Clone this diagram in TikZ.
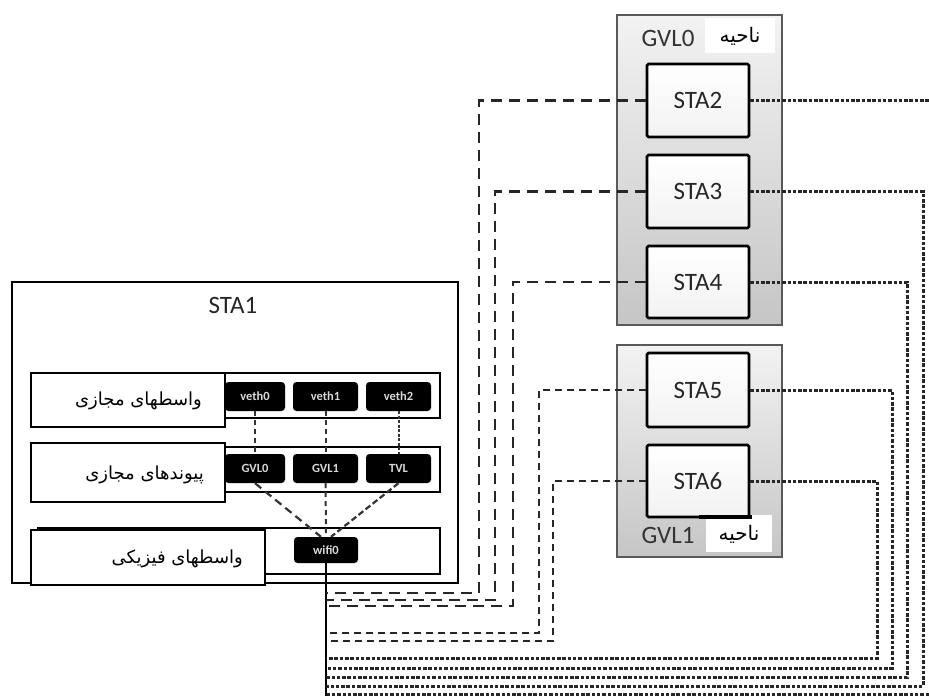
\documentclass[tikz,border=0pt]{standalone}
\usepackage{fontspec}
\setmainfont{Carlito}
\newfontfamily\fa[Script=Arabic]{DejaVu Sans}
\TeXXeTstate=1
\begin{document}
\begin{tikzpicture}[x=1pt,y=-1pt,
  zone/.style={draw=gray!70!black, line width=1.8pt, top color=gray!10, bottom color=gray!45, inner sep=0pt},
  stabox/.style={draw=black, line width=2.8pt, rounded corners=1.5pt, top color=white, bottom color=gray!10, minimum width=102pt, inner sep=0pt, font=\fontsize{25}{27}\selectfont, text=black!85},
  outerbox/.style={draw=black, line width=2.8pt, fill=white, inner sep=0pt},
  strip/.style={draw=black, line width=2.2pt, fill=white, inner sep=0pt},
  lblbox/.style={draw=black, line width=1.8pt, fill=white, inner sep=0pt},
  ifbox/.style={fill=black, rounded corners=3.5pt, text=white!85!black, inner sep=0pt, font=\fontsize{12.5}{13}\selectfont\bfseries},
  fatext/.style={font=\fontsize{18}{20}\selectfont\fa, inner sep=0pt},
  zonetitle/.style={font=\fontsize{25}{27}\selectfont, text=black!80, inner sep=0pt},
  ldash/.style={draw=black!85, line width=2.4pt, dash pattern=on 11pt off 7pt},
  mdash/.style={draw=black!85, line width=2.5pt, dash pattern=on 7pt off 5pt},
  rdash/.style={draw=black!85, line width=3pt, dash pattern=on 3.5pt off 1.8pt},
  idash/.style={draw=black!80, line width=2pt, dash pattern=on 5pt off 4pt},
  idashl/.style={draw=black!80, line width=2.2pt, dash pattern=on 8pt off 5pt}]
\useasboundingbox (0,0) rectangle (929,696);

% ---------- zones ----------
\node[zone, minimum width=165pt, minimum height=310pt] (zone0) at (699.5,170) {};
\node[zone, minimum width=165pt, minimum height=212pt] (zone1) at (699.5,451) {};

% ---------- STA1 ----------
\node[outerbox, minimum width=446pt, minimum height=301pt] (sta1) at (235,432.5) {};
\node[font=\fontsize{25}{27}\selectfont, text=black!85, inner sep=0pt] (sta1t) at (233,305) {STA1};

\node[strip, minimum width=409pt, minimum height=45pt] (row1) at (235.5,395.5) {};
\node[strip, minimum width=409pt, minimum height=45pt] (row2) at (235.5,469.5) {};
\node[strip, minimum width=402pt, minimum height=46pt] (row3) at (239,551) {};

% interface boxes
\node[ifbox, minimum width=60pt, minimum height=29pt] (veth0) at (255,396.5) {veth0};
\node[ifbox, minimum width=65pt, minimum height=29pt] (veth1) at (325.5,396.5) {veth1};
\node[ifbox, minimum width=65pt, minimum height=29pt] (veth2) at (398.5,396.5) {veth2};
\node[ifbox, minimum width=60pt, minimum height=29pt] (gvl0) at (255,468.5) {GVL0};
\node[ifbox, minimum width=65pt, minimum height=29pt] (gvl1) at (325.5,468.5) {GVL1};
\node[ifbox, minimum width=65pt, minimum height=29pt] (tvl) at (398.5,468.5) {TVL};
\node[ifbox, minimum width=64pt, minimum height=26pt] (wifi0) at (326,550) {wifi0};

% internal connectors
\draw[idash] (veth0.south) -- (gvl0.north);
\draw[idash] (veth1.south) -- (gvl1.north);
\draw[idash, dash pattern=on 3pt off 1.5pt] (veth2.south) -- (tvl.north);
\draw[idashl] (gvl0.south) -- ([xshift=-5pt]wifi0.north);
\draw[idash] (gvl1.south) -- (wifi0.north);
\draw[idashl, dash pattern=on 6pt off 3pt] (tvl.south) -- ([xshift=5pt]wifi0.north);

% label boxes
\node[lblbox, minimum width=194pt, minimum height=54pt] (lbl1) at (128,400) {};
\node[lblbox, minimum width=194pt, minimum height=59pt] (lbl2) at (128,472.5) {};
\node[lblbox, minimum width=234pt, minimum height=55pt] (lbl3) at (148,557.5) {};
\node[fatext, anchor=east] (lbl1t) at (202,401) {\beginR واسطهای مجازی\endR};
\node[fatext, anchor=east] (lbl2t) at (204,475) {\beginR پیوندهای مجازی\endR};
\node[fatext, anchor=east] (lbl3t) at (243,559) {\beginR واسطهای فیزیکی\endR};

% ---------- corner coordinates ----------
\coordinate (l2) at (479,593);
\coordinate (l3) at (495,600);
\coordinate (l4) at (513,606);
\coordinate (l5) at (539,633);
\coordinate (l6) at (553,641);
\coordinate (r2) at (929,694);
\coordinate (r3) at (923,686);
\coordinate (r4) at (907,677);
\coordinate (r5) at (892,668);
\coordinate (r6) at (877,658);
\coordinate (wbot) at (325,696);

% STA nodes
\node[stabox, minimum height=73pt] (sta2) at (698,100.5) {STA2};
\node[stabox, minimum height=73pt] (sta3) at (698,191.5) {STA3};
\node[stabox, minimum height=72pt] (sta4) at (698,282) {STA4};
\node[stabox, minimum height=74pt] (sta5) at (698,390) {STA5};
\node[stabox, minimum height=72pt] (sta6) at (698,481) {STA6};

% ---------- connectors ----------
\draw[line width=2pt] (wifi0.south) -- (wifi0.south |- wbot);
\draw[ldash] (sta2.west) -| (l2) -- (l2 -| wifi0.south);
\draw[ldash] (sta3.west) -| (l3) -- (l3 -| wifi0.south);
\draw[ldash] (sta4.west) -| (l4) -- (l4 -| wifi0.south);
\draw[mdash] (sta5.west) -| (l5) -- (l5 -| wifi0.south);
\draw[mdash] (sta6.west) -| (l6) -- (l6 -| wifi0.south);
\draw[rdash] (sta2.east) -- (sta2.east -| r2);
\draw[rdash] (r2) -- (r2 -| wifi0.south);
\draw[rdash] (sta3.east) -| (r3) -- (r3 -| wifi0.south);
\draw[rdash] (sta4.east) -| (r4) -- (r4 -| wifi0.south);
\draw[rdash] (sta5.east) -| (r5) -- (r5 -| wifi0.south);
\draw[rdash] (sta6.east) -| (r6) -- (r6 -| wifi0.south);

% ---------- zone titles ----------
\node[zonetitle] (z0t) at (668,38) {GVL0};
\node[fill=white, minimum width=70pt, minimum height=35pt, inner sep=0pt] (z0f) at (740,35.5) {};
\node[fatext, font=\fontsize{20}{22}\selectfont\fa, text=black] (z0ft) at (740,36) {\beginR ناحیه\endR};
\node[zonetitle] (z1t) at (668,535) {GVL1};
\node[fill=white, minimum width=66pt, minimum height=37pt, inner sep=0pt] (z1f) at (739,533.5) {};
\node[fatext, font=\fontsize{20}{22}\selectfont\fa, text=black] (z1ft) at (739,534) {\beginR ناحیه\endR};
\node[fill=black, minimum width=53pt, minimum height=4.5pt, inner sep=0pt] (bar) at (725.5,517) {};
\end{tikzpicture}
\end{document}
